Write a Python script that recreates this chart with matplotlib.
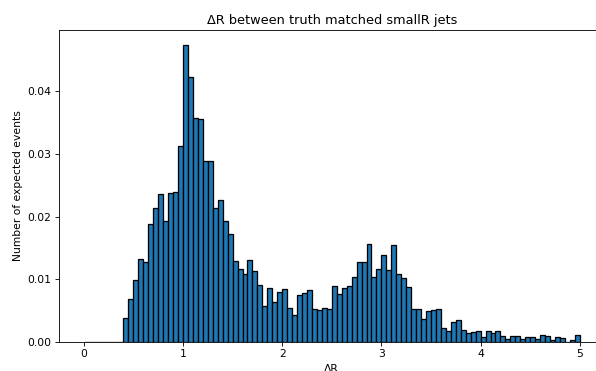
import numpy as np
import matplotlib
matplotlib.use("Agg")
import matplotlib.pyplot as plt

# Histogram binning: 100 bins of width 0.05 over [0, 5]
bin_edges = np.linspace(0.0, 5.0, 101)

# Expected events per bin (bins below 0.40 are empty)
low_bins = [0.0] * 8
counts_040_095 = [0.0039, 0.0068, 0.0099, 0.0133, 0.0127, 0.0188, 0.0214, 0.0236,
                  0.0193, 0.0237, 0.0240, 0.0313]
counts_100_195 = [0.0474, 0.0422, 0.0357, 0.0355, 0.0288, 0.0289, 0.0213, 0.0226,
                  0.0193, 0.0172, 0.0129, 0.0117, 0.0108, 0.0131, 0.0113, 0.0091,
                  0.0058, 0.0086, 0.0064, 0.0080]
counts_200_295 = [0.0084, 0.0054, 0.0043, 0.0075, 0.0078, 0.0083, 0.0053, 0.0051,
                  0.0055, 0.0053, 0.0090, 0.0077, 0.0086, 0.0090, 0.0104, 0.0127,
                  0.0128, 0.0156, 0.0104, 0.0116]
counts_300_395 = [0.0138, 0.0115, 0.0155, 0.0109, 0.0102, 0.0087, 0.0053, 0.0052,
                  0.0037, 0.0049, 0.0051, 0.0052, 0.0023, 0.0018, 0.0032, 0.0035,
                  0.0019, 0.0015, 0.0016, 0.0018]
counts_400_495 = [0.0008, 0.0018, 0.0015, 0.0018, 0.0010, 0.0004, 0.0009, 0.0009,
                  0.0005, 0.0008, 0.0008, 0.0004, 0.0011, 0.0009, 0.0003, 0.0008,
                  0.0006, 0.0000, 0.0003, 0.0011]

weights = np.array(low_bins + counts_040_095 + counts_100_195 + counts_200_295
                   + counts_300_395 + counts_400_495)
centers = 0.5 * (bin_edges[:-1] + bin_edges[1:])

# Render at a reduced dpi so default font sizes come out compact
DPI = 77
fig = plt.figure(figsize=(596 / DPI, 371 / DPI), dpi=DPI)
ax = fig.add_axes([59 / 596, 29 / 371, 545.6 / 596, 312 / 371])

ax.hist(centers, bins=bin_edges, weights=weights,
        facecolor="#1f77b4", edgecolor="black", linewidth=1.2)

ax.set_title("ΔR between truth matched smallR jets")
ax.set_xlabel("ΔR")
ax.set_ylabel("Number of expected events")
ax.set_yticks([0.0, 0.01, 0.02, 0.03, 0.04])

fig.savefig("out.png", dpi=DPI)
